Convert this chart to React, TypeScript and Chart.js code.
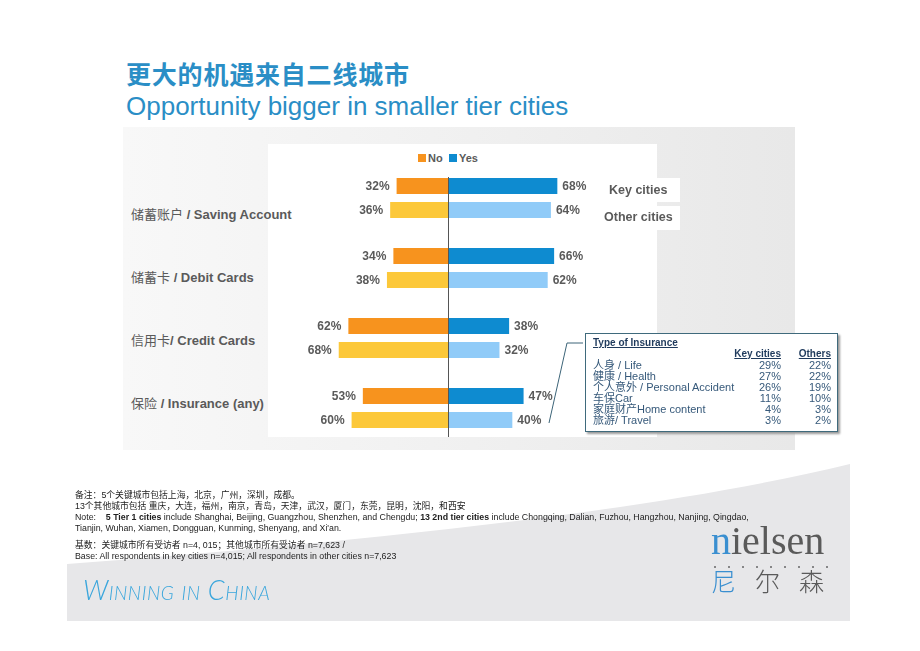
import React, { useEffect, useRef } from "react";
import { Chart, registerables } from "chart.js";

Chart.register(...registerables);

const categories = [
  ["储蓄账户", " / Saving Account"],
  ["储蓄卡", " / Debit Cards"],
  ["信用卡", "/ Credit Cards"],
  ["保险", " / Insurance (any)"],
];
const keyNo = [32, 34, 62, 53];
const keyYes = [68, 66, 38, 47];
const otherNo = [36, 38, 68, 60];
const otherYes = [64, 62, 32, 40];

const insuranceTypes = [
  "人身 / Life",
  "健康 / Health",
  "个人意外 / Personal Accident",
  "车保Car",
  "家庭财产Home content",
  "旅游/ Travel",
];
const insuranceKey = [29, 27, 26, 11, 4, 3];
const insuranceOthers = [22, 22, 19, 10, 3, 2];

const C_KEY_NO = "#F7931E";
const C_OTH_NO = "#FCC83A";
const C_KEY_YES = "#0E8BD0";
const C_OTH_YES = "#90CBF8";
const LABEL_GREY = "#5a5a5a";
const SANS = "'Liberation Sans', Arial, 'Noto Sans CJK SC', sans-serif";

const labelPlugin = {
  id: "barLabels",
  afterDatasetsDraw(chart: any) {
    const ctx = chart.ctx;
    ctx.save();
    ctx.font = "bold 12px 'Liberation Sans', Arial, sans-serif";
    ctx.fillStyle = LABEL_GREY;
    ctx.textBaseline = "middle";
    chart.data.datasets.forEach((ds: any, i: number) => {
      const meta = chart.getDatasetMeta(i);
      meta.data.forEach((bar: any, j: number) => {
        const v = ds.data[j];
        const txt = Math.abs(v) + "%";
        if (v < 0) {
          ctx.textAlign = "right";
          ctx.fillText(txt, bar.x - 7, bar.y + 1);
        } else {
          ctx.textAlign = "left";
          ctx.fillText(txt, bar.x + 5, bar.y + 1);
        }
      });
    });
    ctx.restore();
  },
};

const centerLinePlugin = {
  id: "centerLine",
  afterDatasetsDraw(chart: any) {
    const ctx = chart.ctx;
    const x = Math.round(chart.scales.x.getPixelForValue(0)) + 0.5;
    ctx.save();
    ctx.strokeStyle = "#555";
    ctx.lineWidth = 1;
    ctx.beginPath();
    ctx.moveTo(x, chart.chartArea.top + 14);
    ctx.lineTo(x, chart.chartArea.bottom - 6);
    ctx.stroke();
    ctx.restore();
  },
};

function BarChart() {
  const ref = useRef<HTMLCanvasElement>(null);
  useEffect(() => {
    const chart = new Chart(ref.current as HTMLCanvasElement, {
      type: "bar",
      data: {
        labels: categories.map((c) => c.join("")),
        datasets: [
          { label: "No", data: keyNo.map((v) => -v), backgroundColor: C_KEY_NO, stack: "key" },
          { label: "Yes", data: keyYes, backgroundColor: C_KEY_YES, stack: "key" },
          { label: "No (other)", data: otherNo.map((v) => -v), backgroundColor: C_OTH_NO, stack: "other" },
          { label: "Yes (other)", data: otherYes, backgroundColor: C_OTH_YES, stack: "other" },
        ],
      },
      options: {
        animation: false,
        responsive: false,
        maintainAspectRatio: false,
        indexAxis: "y",
        layout: { padding: { top: 18, left: 0, right: 0, bottom: 0 } },
        datasets: { bar: { categoryPercentage: 0.686, barPercentage: 0.667 } },
        scales: {
          x: { min: -112, max: 130, stacked: true, display: false },
          y: { stacked: true, display: false },
        },
        plugins: { legend: { display: false }, tooltip: { enabled: false } },
      } as any,
      plugins: [labelPlugin, centerLinePlugin],
    });
    return () => chart.destroy();
  }, []);
  return (
    <canvas
      ref={ref}
      width={389}
      height={298}
      style={{ position: "absolute", left: 268, top: 145, width: 389, height: 298 }}
    />
  );
}

function T(props: { x: number; y: number; h?: number; style?: any; children?: any }) {
  const h = props.h ?? 14;
  return (
    <div
      style={{
        position: "absolute",
        left: props.x,
        top: props.y - h / 2,
        height: h,
        lineHeight: h + "px",
        whiteSpace: "nowrap",
        fontFamily: SANS,
        ...props.style,
      }}
    >
      {props.children}
    </div>
  );
}

export default function App() {
  const catY = [214, 277, 340, 403];
  const footStyle = { fontSize: 8.8, color: "#222" };
  return (
    <div
      style={{
        position: "absolute",
        left: 0,
        top: 0,
        width: 920,
        height: 651,
        background: "#fff",
        overflow: "hidden",
        fontFamily: SANS,
      }}
    >
      {/* bottom swoosh */}
      <svg width={920} height={651} style={{ position: "absolute", left: 0, top: 0 }}>
        <path d="M 67 564 C 320 545, 640 515, 850 464 L 850 621 L 67 621 Z" fill="#e7e7e9" />
      </svg>

      {/* title */}
      <T x={126} y={73} h={24} style={{ fontSize: 25, letterSpacing: 0.8, fontWeight: "bold", color: "#2a8ec6", fontFamily: "'Noto Sans CJK SC', sans-serif" }}>
        更大的机遇来自二线城市
      </T>
      <T x={126} y={106} h={26} style={{ fontSize: 26, color: "#2a8ec6" }}>
        Opportunity bigger in smaller tier cities
      </T>

      {/* chart panel */}
      <div
        style={{
          position: "absolute",
          left: 123,
          top: 127,
          width: 672,
          height: 323,
          background: "linear-gradient(to right, #f8f8f8 0%, #f2f2f2 40%, #e8e8e8 100%)",
        }}
      />
      <div style={{ position: "absolute", left: 268, top: 144, width: 389, height: 293, background: "#fff" }} />

      {categories.map((c, i) => (
        <T key={i} x={131} y={catY[i]} h={18} style={{ fontSize: 13, color: LABEL_GREY }}>
          <span style={{ fontFamily: "'Noto Sans CJK SC', sans-serif" }}>{c[0]}</span>
          <span style={{ fontWeight: "bold" }}>{c[1]}</span>
        </T>
      ))}

      {/* legend */}
      <div style={{ position: "absolute", left: 418, top: 154, width: 8, height: 8, background: C_KEY_NO }} />
      <T x={428} y={158} h={12} style={{ fontSize: 11, fontWeight: "bold", color: LABEL_GREY }}>No</T>
      <div style={{ position: "absolute", left: 449, top: 154, width: 8, height: 8, background: C_KEY_YES }} />
      <T x={459} y={158} h={12} style={{ fontSize: 11, fontWeight: "bold", color: LABEL_GREY }}>Yes</T>

      <BarChart />

      {/* key / other city labels */}
      <div style={{ position: "absolute", left: 603, top: 178, width: 77, height: 24, background: "#fff" }} />
      <div style={{ position: "absolute", left: 598, top: 206, width: 82, height: 24, background: "#fff" }} />
      <T x={609} y={190} h={16} style={{ fontSize: 12.5, fontWeight: "bold", color: LABEL_GREY }}>Key cities</T>
      <T x={604} y={217} h={16} style={{ fontSize: 12.5, fontWeight: "bold", color: LABEL_GREY }}>Other cities</T>

      {/* callout */}
      <svg width={920} height={651} style={{ position: "absolute", left: 0, top: 0, pointerEvents: "none" }}>
        <polyline points="549,423 567,343 583,343" fill="none" stroke="#3c6478" strokeWidth={1} />
      </svg>

      {/* insurance table */}
      <div
        style={{
          position: "absolute",
          left: 585,
          top: 333,
          width: 251,
          height: 97,
          background: "#fff",
          border: "1px solid #3f6a7c",
          boxShadow: "2px 2px 2px #9a9a9a",
        }}
      />
      <T x={593} y={343} h={12} style={{ fontSize: 10, fontWeight: "bold", color: "#1f3a5c", textDecoration: "underline" }}>
        Type of Insurance
      </T>
      <T x={700} y={354} h={12} style={{ fontSize: 10, fontWeight: "bold", color: "#1f3a5c", textDecoration: "underline", width: 81, textAlign: "right" }}>
        Key cities
      </T>
      <T x={780} y={354} h={12} style={{ fontSize: 10, fontWeight: "bold", color: "#1f3a5c", textDecoration: "underline", width: 51, textAlign: "right" }}>
        Others
      </T>
      {insuranceTypes.map((t, i) => (
        <React.Fragment key={i}>
          <T x={593} y={365 + i * 11} h={11} style={{ fontSize: 11, color: "#36597a" }}>{t}</T>
          <T x={720} y={365 + i * 11} h={11} style={{ fontSize: 11, color: "#36597a", width: 61, textAlign: "right" }}>
            {insuranceKey[i]}%
          </T>
          <T x={780} y={365 + i * 11} h={11} style={{ fontSize: 11, color: "#36597a", width: 51, textAlign: "right" }}>
            {insuranceOthers[i]}%
          </T>
        </React.Fragment>
      ))}

      {/* footnotes */}
      <T x={75} y={495} h={10} style={footStyle}>备注：5个关键城市包括上海，北京，广州，深圳，成都。</T>
      <T x={75} y={506} h={10} style={footStyle}>13个其他城市包括 重庆，大连，福州，南京，青岛，天津，武汉，厦门，东莞，昆明，沈阳，和西安</T>
      <T x={75} y={517} h={10} style={footStyle}>
        Note:&nbsp;&nbsp;&nbsp; <b>5 Tier 1 cities</b> include Shanghai, Beijing, Guangzhou, Shenzhen, and Chengdu; <b>13 2nd tier cities</b> include Chongqing, Dalian, Fuzhou, Hangzhou, Nanjing, Qingdao,
      </T>
      <T x={75} y={528} h={10} style={footStyle}>Tianjin, Wuhan, Xiamen, Dongguan, Kunming, Shenyang, and Xi'an.</T>
      <T x={75} y={545} h={10} style={footStyle}>基数：关键城市所有受访者 n=4, 015；其他城市所有受访者 n=7,623 /</T>
      <T x={75} y={556} h={10} style={footStyle}>Base: All respondents in key cities n=4,015; All respondents in other cities n=7,623</T>

      {/* Winning in China */}
      <T x={83} y={590} h={30} style={{ fontSize: 27, fontStyle: "italic", fontVariant: "small-caps", fontWeight: 300, color: "#3aa6dc", fontFamily: "Lato, sans-serif", letterSpacing: 0.5 }}>
        Winning in China
      </T>

      {/* nielsen logo */}
      <T x={711} y={541} h={40} style={{ fontSize: 40, color: "#5a5a5a", fontFamily: "'Liberation Serif', serif" }}>
        <span style={{ color: "#3a8fd0" }}>n</span>ielsen
      </T>
      {Array.from({ length: 9 }).map((_, i) => (
        <div key={i} style={{ position: "absolute", left: 714 + i * 14, top: 566, width: 2, height: 2, background: "#666", borderRadius: 1 }} />
      ))}
      <T x={711} y={580} h={28} style={{ fontSize: 25, color: "#5a5a5a", fontFamily: "'Noto Sans CJK SC', sans-serif", fontWeight: 300, letterSpacing: 19 }}>
        <span style={{ color: "#3a8fd0" }}>尼</span>尔森
      </T>
    </div>
  );
}
